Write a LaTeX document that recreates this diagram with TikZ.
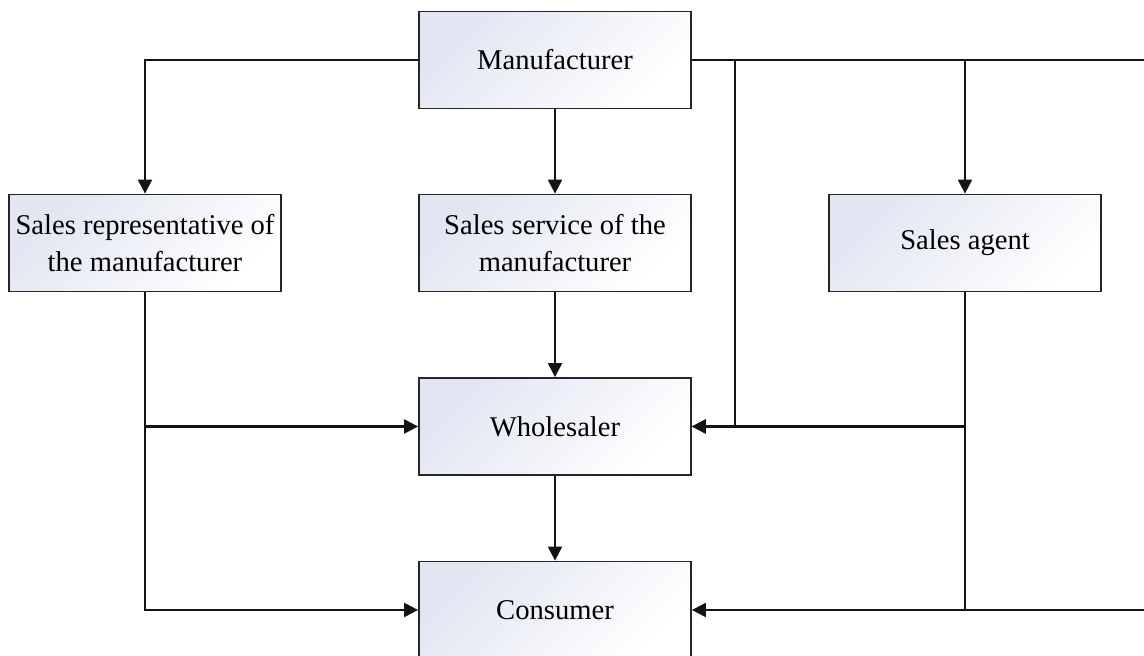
\documentclass[tikz,border=0pt]{standalone}
\usepackage{fontspec}
\setmainfont{Liberation Serif}
\usetikzlibrary{arrows.meta}
\definecolor{boxtint}{RGB}{226,229,242}
\tikzset{
  unit/.style={x=1pt,y=-1pt},
  box/.style={draw=black!85, line width=1.8pt, minimum width=272pt, minimum height=97pt,
    inner sep=0pt, align=center, left color=boxtint, right color=white, shading angle=45,
    font=\fontsize{28.6}{37}\selectfont},
  link/.style={line width=2.2pt, draw=black!92},
  arr/.style={link, -{Triangle[length=14pt,width=14pt]}}
}
\begin{document}
\begin{tikzpicture}[unit]
\path[use as bounding box, clip] (0,0) rectangle (1144,656);

% boxes
\node[box] (man) at (555,60) {Manufacturer};
\node[box] (rep) at (145,243) {Sales representative of\\the manufacturer};
\node[box] (svc) at (555,243) {Sales service of the\\manufacturer};
\node[box] (agt) at (965,243) {Sales agent};
\node[box] (whs) at (555,426.5) {Wholesaler};
\node[box] (con) at (555,610) {Consumer};

% junction points along the manufacturer's right-hand line
\coordinate (j1) at (735,60);
\coordinate (j2) at (965,60);
\coordinate (rt) at (1150,60);

% from the manufacturer
\draw[arr] (man.west) -| (rep.north);
\draw[arr] (man.south) -- (svc.north);
\draw[link] (man.east) -- (rt);
\draw[arr] (rt) |- (con.east);
\draw[arr] (j1) |- (whs.east);
\draw[arr] (j2) -- (agt.north);

% from the sales representative
\draw[arr] (rep.south) |- (con.west);
\draw[arr] (rep.south |- whs.west) -- (whs.west);

% central chain
\draw[arr] (svc.south) -- (whs.north);
\draw[arr] (whs.south) -- (con.north);

% from the sales agent
\draw[link] (agt.south) -- (agt.south |- con.east);
\draw[arr] (agt.south |- whs.east) -- (whs.east);
\end{tikzpicture}
\end{document}
